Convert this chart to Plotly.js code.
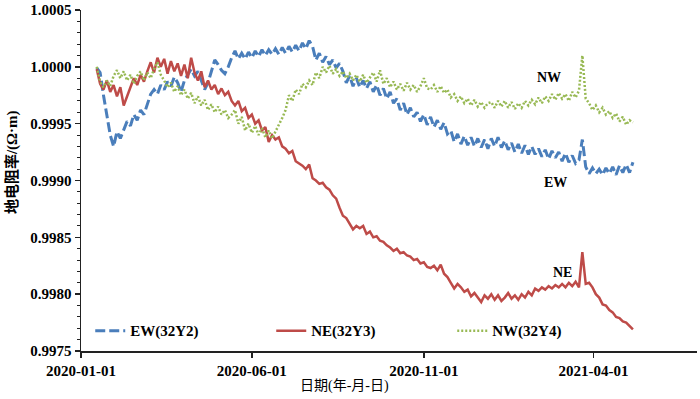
<!DOCTYPE html>
<html>
<head>
<meta charset="utf-8">
<script src="https://cdn.plot.ly/plotly-3.0.1.min.js"></script>
<style>html,body{margin:0;padding:0;background:#fff;}#chart{width:700px;height:399px;}</style>
</head>
<body>
<div id="chart"></div>
<script>
// Sampling: first observation date and interval (days) of the series below
var startDate = '2020-01-15';
var stepDays = 3;

var seriesNames = ['EW(32Y2)', 'NE(32Y3)', 'NW(32Y4)'];
var tickDates = ['2020-01-01', '2020-06-01', '2020-11-01', '2021-04-01'];
var lineLabels = ['NW', 'EW', 'NE'];
var lineLabelDates = ['2021-02-20', '2021-02-26', '2021-03-04'];
var lineLabelValues = [0.99991, 0.99898, 0.99819];

var ew = [
0.99999,0.99995,0.99975,0.99958,0.99940,0.99930,0.99943,0.99937,0.99944,0.99952,
0.99948,0.99958,0.99953,0.99962,0.99958,0.99967,0.99976,0.99980,0.99976,0.99984,
0.99980,0.99987,0.99983,0.99991,0.99986,0.99978,0.99988,0.99993,0.99998,0.99992,
0.99996,0.99988,0.99980,0.99986,0.99996,1.00006,1.00002,0.99997,0.99994,1.00000,
1.00008,1.00014,1.00007,1.00012,1.00007,1.00013,1.00008,1.00014,1.00009,1.00015,
1.00010,1.00015,1.00011,1.00016,1.00011,1.00017,1.00012,1.00018,1.00013,1.00019,
1.00014,1.00021,1.00016,1.00023,1.00018,1.00006,1.00012,1.00004,1.00009,1.00002,
1.00006,0.99999,1.00003,0.99996,0.99986,0.99992,0.99983,0.99990,0.99982,0.99988,
0.99981,0.99987,0.99978,0.99984,0.99975,0.99981,0.99972,0.99978,0.99968,0.99972,
0.99962,0.99968,0.99958,0.99964,0.99956,0.99960,0.99952,0.99958,0.99949,0.99956,
0.99947,0.99953,0.99945,0.99951,0.99941,0.99944,0.99934,0.99941,0.99932,0.99939,
0.99931,0.99938,0.99930,0.99937,0.99929,0.99936,0.99928,0.99937,0.99930,0.99938,
0.99929,0.99935,0.99927,0.99933,0.99925,0.99932,0.99924,0.99931,0.99923,0.99930,
0.99923,0.99928,0.99921,0.99927,0.99919,0.99926,0.99920,0.99925,0.99917,0.99924,
0.99916,0.99922,0.99915,0.99918,0.99936,0.99912,0.99906,0.99911,0.99906,0.99910,
0.99905,0.99911,0.99906,0.99912,0.99905,0.99913,0.99907,0.99914,0.99907,0.99916
];

var ne = [
0.99998,0.99985,0.99980,0.99988,0.99978,0.99984,0.99974,0.99982,0.99966,0.99975,
0.99982,0.99990,0.99984,0.99993,0.99987,0.99996,1.00004,0.99995,1.00008,1.00000,
1.00007,0.99994,1.00005,0.99996,1.00003,0.99992,1.00002,0.99990,1.00008,0.99995,
0.99988,0.99996,0.99982,0.99988,0.99980,0.99984,0.99976,0.99981,0.99975,0.99978,
0.99970,0.99966,0.99970,0.99961,0.99964,0.99955,0.99958,0.99950,0.99953,0.99944,
0.99947,0.99934,0.99940,0.99936,0.99938,0.99930,0.99928,0.99924,0.99926,0.99917,
0.99915,0.99913,0.99910,0.99914,0.99902,0.99900,0.99897,0.99898,0.99894,0.99892,
0.99887,0.99884,0.99876,0.99869,0.99867,0.99862,0.99857,0.99860,0.99858,0.99860,
0.99853,0.99855,0.99850,0.99851,0.99847,0.99846,0.99843,0.99841,0.99838,0.99840,
0.99836,0.99837,0.99834,0.99833,0.99830,0.99831,0.99827,0.99828,0.99824,0.99823,
0.99825,0.99821,0.99826,0.99818,0.99815,0.99810,0.99805,0.99809,0.99806,0.99802,
0.99804,0.99798,0.99801,0.99797,0.99793,0.99799,0.99796,0.99800,0.99795,0.99799,
0.99794,0.99797,0.99801,0.99796,0.99799,0.99795,0.99800,0.99797,0.99802,0.99799,
0.99805,0.99803,0.99806,0.99804,0.99807,0.99805,0.99808,0.99806,0.99809,0.99806,
0.99810,0.99807,0.99811,0.99806,0.99837,0.99809,0.99810,0.99806,0.99800,0.99797,
0.99791,0.99790,0.99786,0.99784,0.99780,0.99779,0.99776,0.99775,0.99772,0.99769
];

var nw = [
1.00000,0.99987,0.99982,0.99988,0.99983,0.99992,0.99997,0.99990,0.99996,0.99988,
0.99993,0.99985,0.99992,0.99996,0.99988,0.99995,0.99990,0.99998,1.00004,0.99993,
0.99988,0.99982,0.99986,0.99978,0.99983,0.99975,0.99980,0.99972,0.99977,0.99968,
0.99974,0.99966,0.99971,0.99962,0.99967,0.99960,0.99965,0.99958,0.99962,0.99955,
0.99958,0.99962,0.99950,0.99956,0.99944,0.99950,0.99942,0.99948,0.99940,0.99946,
0.99938,0.99944,0.99937,0.99943,0.99948,0.99955,0.99962,0.99975,0.99970,0.99980,
0.99976,0.99985,0.99982,0.99988,0.99984,0.99995,0.99990,1.00000,0.99995,1.00001,
0.99994,0.99998,0.99992,0.99996,0.99990,0.99994,0.99988,0.99993,0.99987,0.99993,
0.99986,0.99991,0.99995,0.99987,0.99997,0.99985,0.99990,0.99982,0.99987,0.99980,
0.99985,0.99979,0.99986,0.99980,0.99984,0.99978,0.99983,0.99990,0.99981,0.99980,
0.99984,0.99978,0.99983,0.99977,0.99980,0.99973,0.99976,0.99970,0.99974,0.99968,
0.99972,0.99966,0.99971,0.99965,0.99969,0.99964,0.99968,0.99969,0.99964,0.99970,
0.99965,0.99970,0.99964,0.99969,0.99963,0.99968,0.99964,0.99970,0.99966,0.99971,
0.99967,0.99973,0.99968,0.99974,0.99970,0.99976,0.99971,0.99977,0.99972,0.99976,
0.99970,0.99978,0.99973,0.99979,1.00010,0.99972,0.99968,0.99962,0.99966,0.99960,
0.99964,0.99958,0.99961,0.99955,0.99959,0.99952,0.99956,0.99949,0.99953,0.99951
];

function buildDates(n) {
  var out = [];
  var t0 = Date.parse(startDate + 'T00:00:00Z');
  for (var i = 0; i < n; i++) {
    out.push(new Date(t0 + i * stepDays * 86400000).toISOString().slice(0, 10));
  }
  return out;
}
var dates = buildDates(ew.length);

var serif = 'Liberation Serif';
var cjk = 'Liberation Serif, Noto Sans CJK SC';
var colors = ['#4a7ebb', '#be4b48', '#98b954'];

var traces = [
  {x: dates, y: ew, name: seriesNames[0], type: 'scatter', mode: 'lines',
   line: {color: colors[0], width: 3, dash: '10px,4px'}},
  {x: dates, y: ne, name: seriesNames[1], type: 'scatter', mode: 'lines',
   line: {color: colors[1], width: 2.5}},
  {x: dates, y: nw, name: seriesNames[2], type: 'scatter', mode: 'lines',
   line: {color: colors[2], width: 2.5, dash: '2px,2px'}}
];

var anns = [];
for (var k = 0; k < lineLabels.length; k++) {
  anns.push({x: lineLabelDates[k], y: lineLabelValues[k], xref: 'x', yref: 'y',
    text: lineLabels[k], showarrow: false,
    font: {family: serif, size: 14, color: '#000', weight: 'bold'}});
}
anns.push({text: '日期(年-月-日)', xref: 'paper', yref: 'paper', x: 0.427, y: -0.104,
  showarrow: false, xanchor: 'center', yanchor: 'middle',
  font: {family: cjk, size: 14, color: '#000'}});
anns.push({text: '地电阻率/(Ω·m)', xref: 'paper', yref: 'paper', x: -0.112, y: 0.554,
  showarrow: false, textangle: -90, xanchor: 'center', yanchor: 'middle',
  font: {family: cjk, size: 15, color: '#000', weight: 'bold'}});

var layout = {
  width: 700, height: 399,
  margin: {l: 81, r: 3, t: 10, b: 48},
  paper_bgcolor: '#fff', plot_bgcolor: '#fff',
  showlegend: true,
  legend: {orientation: 'h', x: 0.015, xanchor: 'left', y: 0.059, yanchor: 'middle',
    entrywidth: 136, entrywidthmode: 'pixels', bgcolor: 'rgba(0,0,0,0)',
    font: {family: serif, size: 15, color: '#000', weight: 'bold'}},
  xaxis: {type: 'date', range: ['2020-01-01', '2021-07-02'],
    tickmode: 'array', tickvals: tickDates, ticktext: tickDates,
    ticks: 'outside', ticklen: 5, tickwidth: 1.5, tickcolor: '#222',
    showline: true, linecolor: '#222', linewidth: 1.5, showgrid: false, zeroline: false,
    tickfont: {family: serif, size: 15, color: '#000', weight: 'bold'}},
  yaxis: {range: [0.9975, 1.0005], dtick: 0.0005, tick0: 0.9975, tickformat: '.4f',
    ticks: 'outside', ticklen: 5, tickwidth: 1.5, tickcolor: '#222',
    minor: {dtick: 0.0001, ticks: 'outside', ticklen: 3, tickwidth: 1, tickcolor: '#222', showgrid: false},
    showline: true, linecolor: '#222', linewidth: 1.5, showgrid: false, zeroline: false,
    tickfont: {family: serif, size: 15, color: '#000', weight: 'bold'}},
  annotations: anns
};

Plotly.newPlot('chart', traces, layout, {displayModeBar: false, staticPlot: true});
</script>
</body>
</html>
